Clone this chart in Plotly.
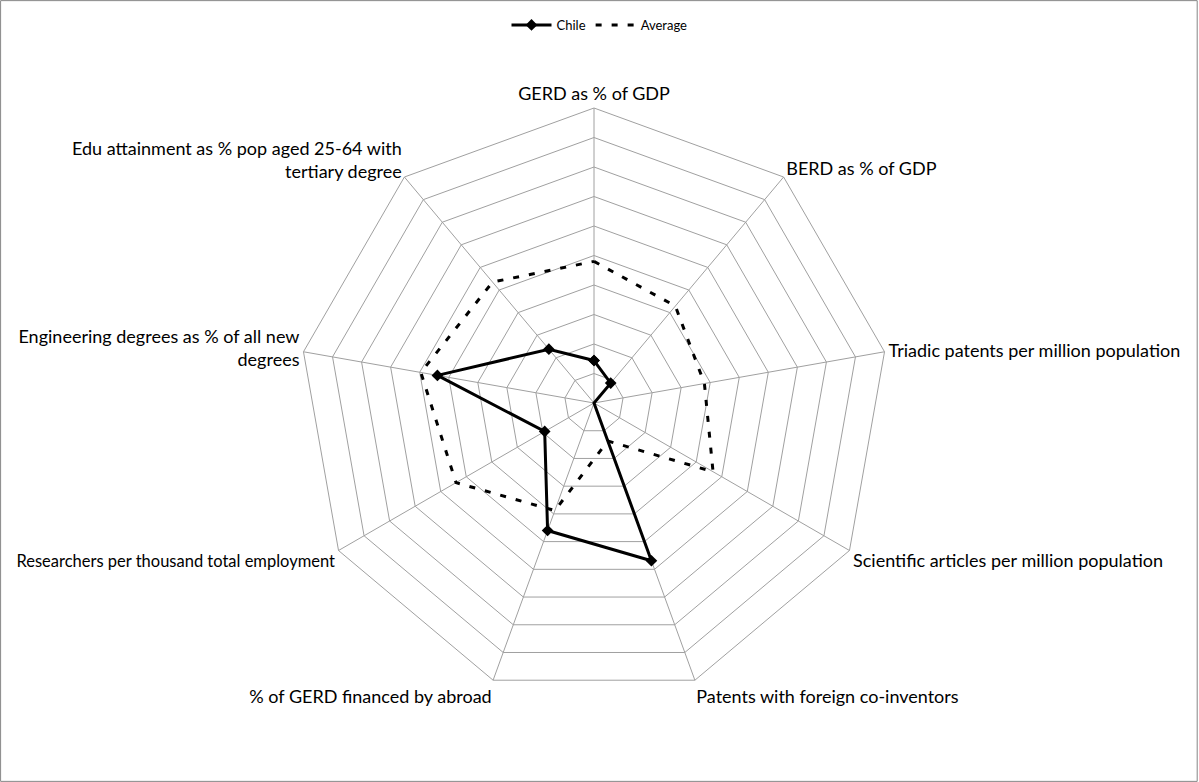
import plotly.graph_objects as go

categories = [
    "GERD as % of GDP",
    "BERD as % of GDP",
    "Triadic patents per million population",
    "Scientific articles per million population",
    "Patents with foreign co-inventors",
    "% of GERD financed by abroad",
    "Researchers per thousand total employment",
    "Engineering degrees as % of all new degrees",
    "Edu attainment as % pop aged 25-64 with tertiary degree",
]
tick_labels = [
    "GERD as % of GDP",
    "BERD as % of GDP",
    "Triadic patents per million population",
    "Scientific articles per million population",
    "Patents with foreign co-inventors",
    "% of GERD financed by abroad",
    "<span style='font-size:16.5px'>Researchers per thousand total employment</span>",
    "Engineering degrees as % of all new<br>degrees",
    "Edu attainment as % pop aged 25-64 with<br>tertiary degree",
]
chile = [1.44, 0.88, 0.0, 0.0, 5.69, 4.6, 1.93, 5.39, 2.38]
average = [4.8, 4.29, 3.8, 4.66, 1.37, 3.88, 5.4, 5.96, 5.35]
ring_ticks = list(range(0, 11))

W, H = 1199, 782
cx, cy, R = 594, 403, 295

fig = go.Figure()
fig.add_trace(go.Scatterpolar(
    r=chile + chile[:1], theta=categories + categories[:1],
    mode="lines+markers", name="Chile",
    line=dict(color="black", width=3),
    marker=dict(symbol="diamond", size=9, color="black"),
))
fig.add_trace(go.Scatterpolar(
    r=average + average[:1], theta=categories + categories[:1],
    mode="lines", name="Average",
    line=dict(color="black", width=3, dash="6px,10px"),
))

fig.update_layout(
    width=W, height=H,
    margin=dict(l=0, r=0, t=0, b=0),
    paper_bgcolor="white", plot_bgcolor="white",
    font=dict(family="Lato, 'Open Sans', sans-serif", color="black"),
    showlegend=True,
    legend=dict(orientation="h", x=0.5, xanchor="center", y=1 - 25 / H, yanchor="middle",
                font=dict(size=13), bgcolor="rgba(0,0,0,0)", itemwidth=40),
    polar=dict(
        domain=dict(x=[(cx - R) / W, (cx + R) / W], y=[(H - cy - R) / H, (H - cy + R) / H]),
        gridshape="linear",
        bgcolor="white",
        radialaxis=dict(range=[0, 10], tickvals=ring_ticks, showticklabels=False, ticks="",
                        showline=False, gridcolor="#a0a0a0", gridwidth=1),
        angularaxis=dict(direction="clockwise", rotation=90, showline=True,
                         categoryorder="array", categoryarray=categories,
                         tickmode="array", tickvals=categories, ticktext=tick_labels,
                         linecolor="#a0a0a0", linewidth=1, gridcolor="#a0a0a0", gridwidth=1,
                         ticks="", tickfont=dict(size=18, color="black")),
    ),
    shapes=[dict(type="rect", xref="paper", yref="paper", x0=0.0005, y0=0.0008, x1=0.9985, y1=0.9992,
                 line=dict(color="#868686", width=1))],
)

fig.write_html("out.html")
